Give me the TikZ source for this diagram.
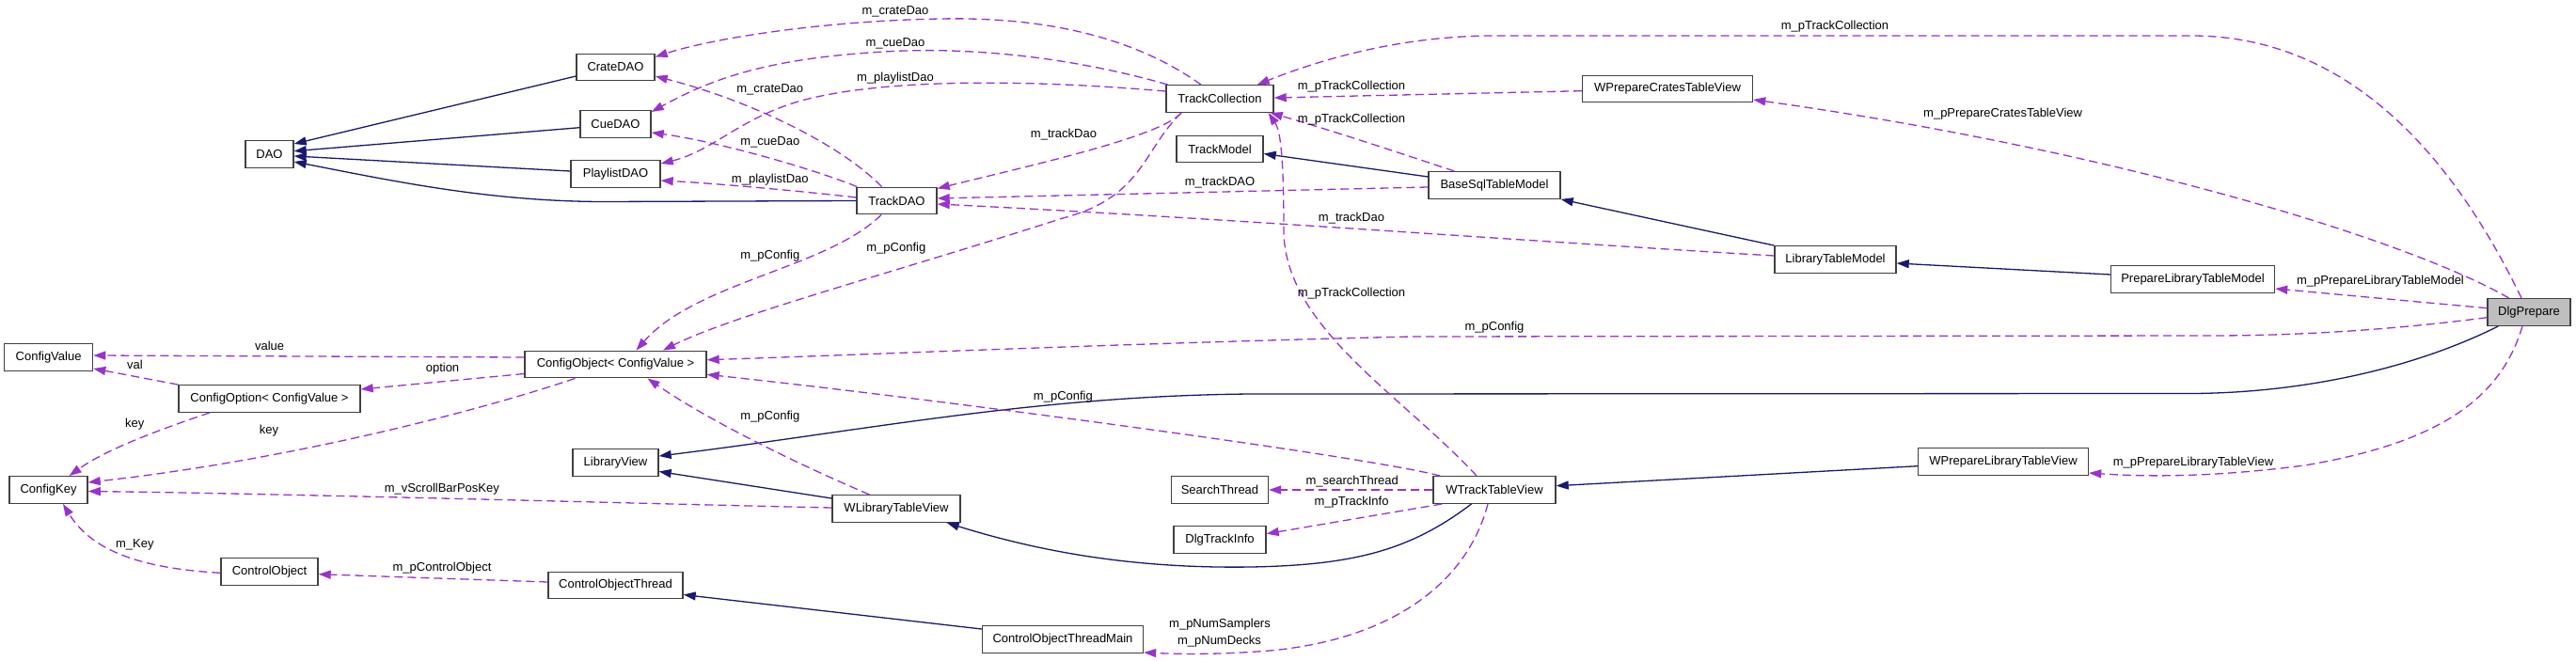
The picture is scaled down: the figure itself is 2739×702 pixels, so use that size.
\documentclass[tikz,border=0pt]{standalone}
\usepackage{fontspec}
\setmainfont{Liberation Sans}
\usetikzlibrary{calc,arrows.meta}
\definecolor{purp}{HTML}{9A32CD}
\definecolor{navyc}{HTML}{191970}
\definecolor{boxline}{HTML}{404040}
\definecolor{selfill}{HTML}{BFBFBF}
\tikzset{
 cls/.style={draw=boxline, line width=1.4pt, fill=white, minimum height=28.5pt, inner sep=0pt, font=\fontsize{13}{15}\selectfont},
 inh/.style={draw=navyc, line width=1.3pt, -{Triangle[length=13pt,width=9pt]}},
 uses/.style={draw=purp, line width=1.3pt, dash pattern=on 9pt off 5pt, -{Triangle[length=13pt,width=9pt]}},
 lbl/.style={font=\fontsize{13}{15}\selectfont, inner sep=0pt},
}
\begin{document}
\begin{tikzpicture}[x=1pt,y=-1pt]
\useasboundingbox (0,0) rectangle (2739,702);
\fill[white] (0,0) rectangle (2739,702);
% classes
\node[cls, minimum width=51pt] (dao) at (286.5,164) {DAO};
\node[cls, minimum width=83pt] (cratedao) at (654.5,71.5) {CrateDAO};
\node[cls, minimum width=75pt] (cuedao) at (654.5,132) {CueDAO};
\node[cls, minimum width=95pt] (playlistdao) at (654.5,185) {PlaylistDAO};
\node[cls, minimum width=85pt] (trackdao) at (953.5,213.5) {TrackDAO};
\node[cls, minimum width=114pt] (trackcoll) at (1297,105) {TrackCollection};
\node[cls, minimum width=92pt] (trackmodel) at (1297,158.5) {TrackModel};
\node[cls, minimum width=181pt] (wpctv) at (1773,94.5) {WPrepareCratesTableView};
\node[cls, minimum width=140pt] (basesql) at (1589,197) {BaseSqlTableModel};
\node[cls, minimum width=129pt] (libtm) at (1951.5,276) {LibraryTableModel};
\node[cls, minimum width=174pt] (pltm) at (2331.5,297) {PrepareLibraryTableModel};
\node[cls, minimum width=88pt, fill=selfill] (dlgprep) at (2689,332) {DlgPrepare};
\node[cls, minimum width=94pt] (configvalue) at (51.6,380) {ConfigValue};
\node[cls, minimum width=193pt] (configoption) at (286.5,424) {ConfigOption< ConfigValue >};
\node[cls, minimum width=193pt] (configobject) at (654.5,387.5) {ConfigObject< ConfigValue >};
\node[cls, minimum width=83pt] (configkey) at (51.6,521) {ConfigKey};
\node[cls, minimum width=91pt] (libview) at (654.5,492) {LibraryView};
\node[cls, minimum width=136pt] (wltv) at (953,541) {WLibraryTableView};
\node[cls, minimum width=103pt] (searchthread) at (1297,521) {SearchThread};
\node[cls, minimum width=98pt] (dlgtrackinfo) at (1297,574) {DlgTrackInfo};
\node[cls, minimum width=130pt] (wttv) at (1589,521) {WTrackTableView};
\node[cls, minimum width=181pt] (wpltv) at (2130,491) {WPrepareLibraryTableView};
\node[cls, minimum width=103pt] (controlobject) at (286.5,608) {ControlObject};
\node[cls, minimum width=143pt] (cot) at (654.5,622.5) {ControlObjectThread};
\node[cls, minimum width=171pt] (cotm) at (1130,680) {ControlObjectThreadMain};

% inheritance
\draw[inh] ($(cratedao.west)+(0,9.5)$) -- ($(dao.east)+(0,-11)$);
\draw[inh] ($(cuedao.west)+(0,3.7)$) -- ($(dao.east)+(0,-3.3)$);
\draw[inh] ($(playlistdao.west)+(0,-3)$) -- ($(dao.east)+(0,2)$);
\draw[inh] (trackdao.west) -- (640,214.5) .. controls (520,214) and (420,193) .. ($(dao.east)+(0,8)$);
\draw[inh] ($(basesql.west)+(0,-9)$) -- ($(trackmodel.east)+(0,5)$);
\draw[inh] (libtm.north west) -- (basesql.south east);
\draw[inh] ($(pltm.west)+(0,-5)$) -- ($(libtm.east)+(0,4)$);
\draw[inh] ($(dlgprep.south west)+(12,0)$) .. controls (2560,395) and (2440,418) .. (2330,418.5) -- (1330,419) .. controls (1100,421) and (920,458) .. ($(libview.east)+(0,-7)$);
\draw[inh] ($(wltv.west)+(0,-11)$) -- ($(libview.east)+(0,9.5)$);
\draw[inh] ($(wttv.south)+(-24.5,0)$) .. controls (1500,585) and (1440,601) .. (1330,603) .. controls (1200,605) and (1100,585) .. ($(wltv.south east)+(-15,0)$);
\draw[inh] ($(wpltv.west)+(0,4.7)$) -- ($(wttv.east)+(0,-4.3)$);
\draw[inh] ($(cotm.west)+(0,-11)$) -- ($(cot.east)+(0,10)$);

% usage
\draw[uses] ($(trackcoll.north)+(-20,0)$) .. controls (1200,35) and (1100,18) .. (1000,20) .. controls (880,22) and (760,40) .. ($(cratedao.east)+(0,-11)$);
\draw[uses] ($(trackcoll.north west)+(2.5,0)$) .. controls (1130,58) and (1020,50) .. (940,55) .. controls (820,62) and (760,82) .. ($(cuedao.east)+(0,-13)$);
\draw[uses] ($(trackcoll.west)+(0,-8)$) .. controls (1100,85) and (950,83) .. (860,105) .. controls (790,122) and (760,160) .. ($(playlistdao.east)+(0,-11)$);
\draw[uses] ($(trackdao.north)+(-16,0)$) .. controls (890,150) and (790,105) .. ($(cratedao.east)+(0,9.5)$);
\draw[uses] ($(trackdao.north west)+(1,0)$) .. controls (860,178) and (760,150) .. ($(cuedao.east)+(0,9)$);
\draw[uses] ($(trackdao.west)+(0,-3.5)$) .. controls (850,203) and (760,195) .. ($(playlistdao.east)+(0,7)$);
\draw[uses] ($(trackcoll.south)+(-41,0)$) .. controls (1235,145) and (1100,175) .. ($(trackdao.east)+(0,-13)$);
\draw[uses] ($(basesql.west)+(0,2)$) -- ($(trackdao.east)+(0,-2.5)$);
\draw[uses] ($(libtm.west)+(0,-4)$) .. controls (1600,255) and (1300,232) .. ($(trackdao.east)+(0,3.5)$);
\draw[uses] ($(trackdao.south)+(-16.5,0)$) .. controls (880,285) and (740,300) .. ($(configobject.north)+(22,0)$);
\draw[uses] ($(trackcoll.south)+(-41,0)$) .. controls (1215,160) and (1215,210) .. (1130,232) .. controls (950,290) and (780,335) .. ($(configobject.north)+(50.5,0)$);
\draw[uses] ($(basesql.north)+(-42.5,0)$) .. controls (1480,160) and (1420,140) .. ($(trackcoll.south east)+(-4,0)$);
\draw[uses] ($(wpctv.west)+(0,2.2)$) -- ($(trackcoll.east)+(0,-1)$);
\draw[uses] ($(dlgprep.north)+(-8,0)$) .. controls (2610,170) and (2500,38) .. (2330,38) -- (1580,38) .. controls (1480,40) and (1400,65) .. ($(trackcoll.north east)+(-18,0)$);
\draw[uses] ($(wttv.north)+(-19,0)$) .. controls (1490,420) and (1370,350) .. (1365,250) .. controls (1365,170) and (1362,140) .. ($(trackcoll.south east)+(-6,0)$);
\draw[uses] ($(dlgprep.north)+(-21.3,0)$) .. controls (2560,255) and (2250,160) .. ($(wpctv.east)+(0,11.5)$);
\draw[uses] ($(dlgprep.west)+(0,-4.3)$) -- ($(pltm.east)+(0,10)$);
\draw[uses] ($(dlgprep.west)+(0,5.7)$) .. controls (2550,350) and (2450,357) .. (2350,357) -- (1500,358) .. controls (1200,365) and (900,378) .. ($(configobject.east)+(0,-4.8)$);
\draw[uses] ($(dlgprep.south)+(-7,0)$) .. controls (2660,420) and (2600,470) .. (2450,495) .. controls (2350,508) and (2280,507) .. ($(wpltv.east)+(0,12)$);
\draw[uses] ($(wttv.north west)+(8,0)$) .. controls (1450,485) and (1000,425) .. ($(configobject.east)+(0,10.8)$);
\draw[uses] (wttv.west) -- (searchthread.east);
\draw[uses] ($(wttv.south west)+(10,0)$) -- ($(dlgtrackinfo.east)+(0,-6.3)$);
\draw[uses] ($(wttv.south)+(-7,0)$) .. controls (1560,620) and (1480,680) .. (1350,692) .. controls (1300,696) and (1260,696) .. ($(cotm.south east)+(0,-1)$);
\draw[uses] ($(wltv.north)+(-28.5,0)$) .. controls (840,490) and (750,445) .. ($(configobject.south)+(34,0)$);
\draw[uses] ($(wltv.west)+(0,-1)$) .. controls (700,536) and (300,525) .. ($(configkey.east)+(0,1.5)$);
\draw[uses] ($(configobject.west)+(0,-7.5)$) -- ($(configvalue.east)+(0,-2)$);
\draw[uses] ($(configobject.west)+(0,10)$) -- ($(configoption.east)+(0,-10)$);
\draw[uses] ($(configobject.south)+(-43,0)$) .. controls (500,440) and (300,490) .. ($(configkey.east)+(0,-8)$);
\draw[uses] (configoption.north west) -- ($(configvalue.east)+(0,12)$);
\draw[uses] ($(configoption.south)+(-63.5,0)$) .. controls (160,460) and (110,480) .. ($(configkey.north)+(22,0)$);
\draw[uses] ($(controlobject.west)+(0,1.3)$) .. controls (160,605) and (100,590) .. ($(configkey.south)+(15.4,0)$);
\draw[uses] ($(cot.west)+(0,-3.5)$) -- ($(controlobject.east)+(0,2.7)$);

% labels
\node[lbl] (l1) at (952,12.7) {m\_crateDao};
\node[lbl] (l2) at (952,46.7) {m\_cueDao};
\node[lbl] (l3) at (952,82.7) {m\_playlistDao};
\node[lbl] (l4) at (818.8,95) {m\_crateDao};
\node[lbl] (l5) at (818.8,151.7) {m\_cueDao};
\node[lbl] (l6) at (818.8,190.7) {m\_playlistDao};
\node[lbl] (l7) at (1131,142.7) {m\_trackDao};
\node[lbl] (l8) at (1297,194.3) {m\_trackDAO};
\node[lbl] (l9) at (818.8,271.7) {m\_pConfig};
\node[lbl] (l10) at (952.8,264) {m\_pConfig};
\node[lbl] (l11) at (1951,28.3) {m\_pTrackCollection};
\node[lbl] (l12) at (1437,91.7) {m\_pTrackCollection};
\node[lbl] (l13) at (1437,126.7) {m\_pTrackCollection};
\node[lbl] (l14) at (1437,231.7) {m\_trackDao};
\node[lbl] (l15) at (1437,312.3) {m\_pTrackCollection};
\node[lbl] (l16) at (1589,348.3) {m\_pConfig};
\node[lbl] (l17) at (2129.6,120.7) {m\_pPrepareCratesTableView};
\node[lbl] (l18) at (2531,299.3) {m\_pPrepareLibraryTableModel};
\node[lbl] (l19) at (2332,492.3) {m\_pPrepareLibraryTableView};
\node[lbl] (l20) at (286.6,367.7) {value};
\node[lbl] (l21) at (143.5,387.7) {val};
\node[lbl] (l22) at (470.5,391.7) {option};
\node[lbl] (l23) at (143.3,450.7) {key};
\node[lbl] (l24) at (286,458.3) {key};
\node[lbl] (l25) at (469.8,520) {m\_vScrollBarPosKey};
\node[lbl] (l26) at (143.3,579) {m\_Key};
\node[lbl] (l27) at (470,604) {m\_pControlObject};
\node[lbl] (l28) at (818.8,442.7) {m\_pConfig};
\node[lbl] (l29) at (1130.4,422.3) {m\_pConfig};
\node[lbl] (l30) at (1297,664.3) {m\_pNumSamplers};
\node[lbl] (l31) at (1296.5,682.3) {m\_pNumDecks};
\node[lbl] (l32) at (1437.7,511.7) {m\_searchThread};
\node[lbl] (l33) at (1437,534.3) {m\_pTrackInfo};
\end{tikzpicture}
\end{document}
